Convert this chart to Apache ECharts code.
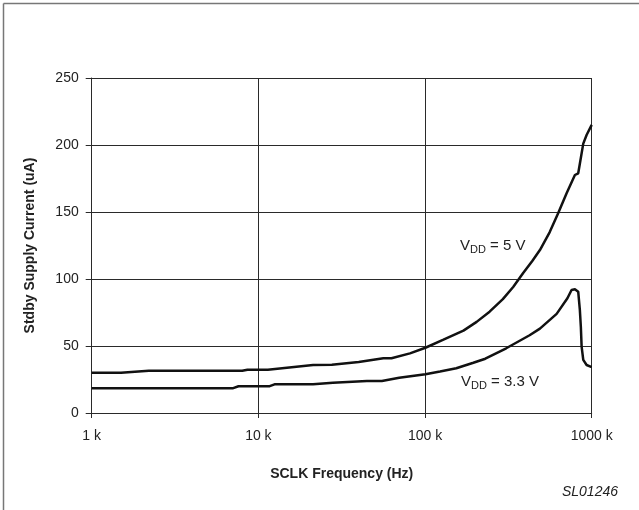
<!DOCTYPE html>
<html>
<head>
<meta charset="utf-8">
<script src="https://cdn.jsdelivr.net/npm/echarts@6/dist/echarts.min.js"></script>
<style>
html,body{margin:0;padding:0;background:#fff;}
#chart{width:639px;height:510px;}
</style>
</head>
<body>
<div id="chart"></div>
<script>
// Frequency in kHz, current in uA
var freq5 = [1, 1.5, 2.2, 8.0, 8.6, 11.4, 21.3, 27.6, 40, 56.2, 62.9, 81.2, 100.5, 128, 170, 204, 244, 293, 338, 387, 440, 489, 560, 629, 707, 793, 830, 849, 890, 932, 1000];
var vdd5 = [30, 30, 31.5, 31.5, 32.3, 32.3, 35.8, 36, 38, 40.8, 40.8, 44.5, 48.7, 54.5, 61.5, 68, 75.6, 85, 94, 104.3, 113.5, 121.6, 135, 149, 164, 177.6, 178.9, 186, 201, 207.5, 215];
var freq33 = [1, 7.0, 7.6, 11.7, 12.5, 21.3, 28, 44.8, 55.1, 70, 100.5, 123, 154, 195, 230, 307, 424, 489, 616, 715, 757, 775, 793, 830, 849, 861, 870, 890, 932, 1000];
var vdd33 = [18.4, 18.4, 20, 20, 21.4, 21.4, 22.6, 23.9, 23.9, 26.3, 28.9, 31, 33.4, 37.5, 40.5, 48.3, 58, 63, 74, 85.6, 91.8, 92.3, 92.3, 90.5, 77, 64, 49.5, 39.6, 35.8, 34.3];
var xTicks = [1, 10, 100, 1000];
var yTicks = [0, 50, 100, 150, 200, 250];

function pairs(xs, ys) { return xs.map(function (x, i) { return [x, ys[i]]; }); }

var FONT = "'Liberation Sans', Arial, sans-serif";
var chart = echarts.init(document.getElementById('chart'));
var gridColor = '#2a2a2a';
chart.setOption({
  animation: false,
  backgroundColor: '#fff',
  grid: { left: 91.7, right: 47.3, top: 78, bottom: 97 },
  xAxis: {
    type: 'log', logBase: 10, min: xTicks[0], max: xTicks[xTicks.length - 1],
    name: 'SCLK Frequency (Hz)', nameLocation: 'middle', nameGap: 54,
    nameTextStyle: { fontFamily: FONT, fontSize: 14, fontWeight: 'bold', color: '#222' },
    axisLine: { lineStyle: { color: gridColor, width: 1 } },
    axisTick: { show: true, inside: false, length: 5, lineStyle: { color: gridColor } },
    minorTick: { show: false },
    axisLabel: { fontFamily: FONT, fontSize: 14, color: '#222', margin: 16,
      formatter: function (v) { return v + ' k'; } },
    splitLine: { show: true, lineStyle: { color: gridColor, width: 1 } }
  },
  yAxis: {
    type: 'value', min: yTicks[0], max: yTicks[yTicks.length - 1], interval: 50,
    name: 'Stdby Supply Current (uA)', nameLocation: 'middle', nameGap: 55, nameRotate: 90,
    nameTextStyle: { fontFamily: FONT, fontSize: 14, fontWeight: 'bold', color: '#222' },
    axisLine: { show: true, lineStyle: { color: gridColor, width: 1 } },
    axisTick: { show: true, inside: false, length: 6, lineStyle: { color: gridColor } },
    axisLabel: { fontFamily: FONT, fontSize: 14, color: '#222', margin: 13 },
    splitLine: { show: true, lineStyle: { color: gridColor, width: 1 } }
  },
  series: [
    { type: 'line', name: 'VDD = 5 V', data: pairs(freq5, vdd5), showSymbol: false, symbol: 'none',
      lineStyle: { color: '#111', width: 2.5 }, z: 5 },
    { type: 'line', name: 'VDD = 3.3 V', data: pairs(freq33, vdd33), showSymbol: false, symbol: 'none',
      lineStyle: { color: '#111', width: 2.5 }, z: 5 }
  ],
  graphic: [
    { type: 'line', shape: { x1: 3.5, y1: 3.5, x2: 639, y2: 3.5 }, style: { stroke: '#777', lineWidth: 1.5 } },
    { type: 'line', shape: { x1: 3.5, y1: 3.5, x2: 3.5, y2: 510 }, style: { stroke: '#777', lineWidth: 1.5 } },
    { type: 'text', left: 460, top: 238, style: {
        text: '{v|V}{s|DD}{v| = 5 V}', fill: '#222',
        rich: {
          v: { fontFamily: FONT, fontSize: 15, lineHeight: 17, padding: [0, 0, 2, 0], verticalAlign: 'bottom', fill: '#222' },
          s: { fontFamily: FONT, fontSize: 11, lineHeight: 11, verticalAlign: 'bottom', fill: '#222' }
        } } },
    { type: 'text', left: 461, top: 374, style: {
        text: '{v|V}{s|DD}{v| = 3.3 V}', fill: '#222',
        rich: {
          v: { fontFamily: FONT, fontSize: 15, lineHeight: 17, padding: [0, 0, 2, 0], verticalAlign: 'bottom', fill: '#222' },
          s: { fontFamily: FONT, fontSize: 11, lineHeight: 11, verticalAlign: 'bottom', fill: '#222' }
        } } },
    { type: 'text', right: 21, top: 485, style: {
        text: 'SL01246', fontFamily: FONT, fontSize: 14, fontStyle: 'italic', fill: '#222' } }
  ]
});
</script>
</body>
</html>
